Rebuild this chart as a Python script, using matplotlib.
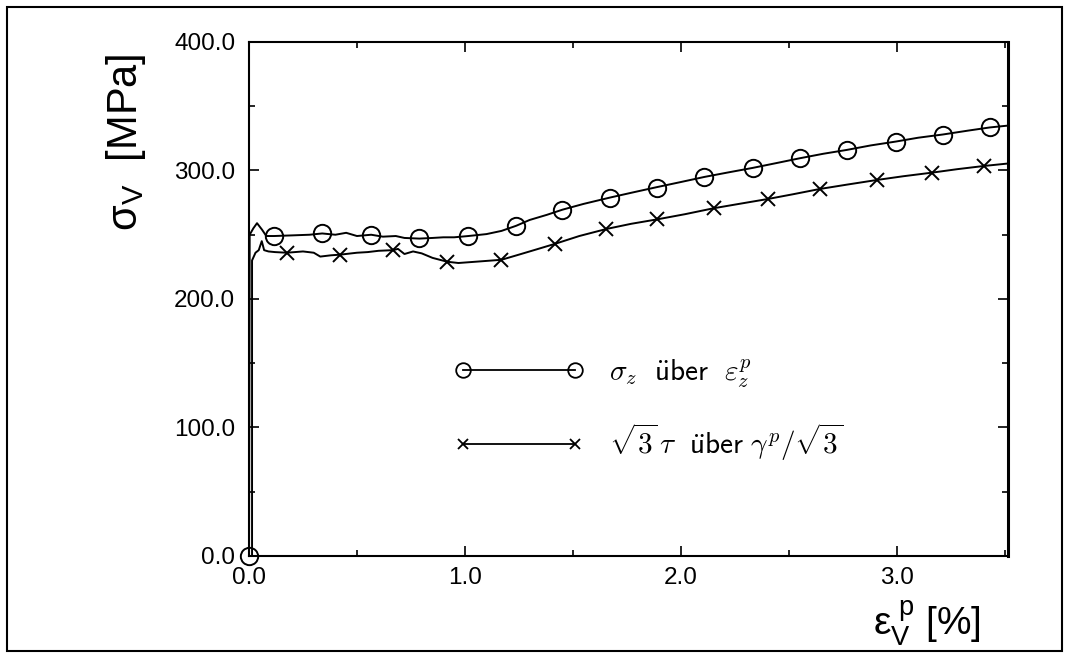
import numpy as np
import matplotlib
matplotlib.use("Agg")
import matplotlib.pyplot as plt
from matplotlib.lines import Line2D
from matplotlib.patches import Rectangle
from matplotlib.ticker import MultipleLocator, FormatStrFormatter

plt.rcParams['font.family'] = ['Liberation Sans', 'DejaVu Sans']
plt.rcParams['mathtext.fontset'] = 'custom'
plt.rcParams['mathtext.rm'] = 'Liberation Sans'
plt.rcParams['mathtext.it'] = 'Liberation Sans'

# sigma_z over eps_z^p  (line)
sz_x = [0.0, 0.003, 0.02, 0.037, 0.06, 0.08, 0.116, 0.2, 0.28, 0.339, 0.4, 0.45,
        0.5, 0.566, 0.62, 0.68, 0.72, 0.789, 0.85, 0.9, 0.95, 1.016, 1.1, 1.17,
        1.238, 1.3, 1.38, 1.452, 1.55, 1.674, 1.78, 1.888, 2.0, 2.11, 2.22, 2.333,
        2.45, 2.551, 2.66, 2.769, 2.88, 2.996, 3.1, 3.214, 3.33, 3.432, 3.52]
sz_y = [0.0, 250, 255, 259, 254, 249, 249, 249.5, 250, 251, 250, 251.5,
        249, 250, 248.5, 249, 247.5, 247, 247.5, 248, 248, 249, 250.5, 253,
        257, 261.5, 265.5, 269.5, 274, 279, 283, 287, 291, 295, 298.5, 302,
        306, 309.5, 313, 316, 319.5, 322.5, 325.5, 328, 331, 333.5, 335]
# circle markers
sz_mx = [0.0, 0.116, 0.339, 0.566, 0.789, 1.016, 1.238, 1.452, 1.674, 1.888,
         2.11, 2.333, 2.551, 2.769, 2.996, 3.214, 3.432]
sz_my = [0.0, 249, 251.6, 249.8, 247.2, 249, 256.8, 269.3, 278.8, 286.6,
         294.7, 302.2, 309.5, 316, 322.4, 327.6, 333.6]

# sqrt(3) tau over gamma^p/sqrt(3)
tau_x = [0.014, 0.014, 0.03, 0.045, 0.059, 0.07, 0.09, 0.12, 0.175, 0.25, 0.3,
         0.33, 0.38, 0.422, 0.5, 0.55, 0.6, 0.668, 0.69, 0.72, 0.76, 0.8, 0.85,
         0.918, 0.97, 1.05, 1.169, 1.25, 1.33, 1.419, 1.53, 1.656, 1.77, 1.892,
         2.02, 2.152, 2.27, 2.403, 2.52, 2.644, 2.77, 2.908, 3.03, 3.163, 3.28,
         3.404, 3.52]
tau_y = [0.0, 230, 236, 238, 245, 238, 237, 236.5, 236, 237, 236,
         233, 234, 234.5, 236, 236.5, 237.5, 238, 239, 235, 237, 235.5, 232,
         229, 228, 229, 230.5, 234.5, 238.5, 243, 249, 254.5, 258.5, 262,
         266, 270.6, 274, 277.8, 281.5, 285.6, 289, 292.6, 295.5, 298.3, 301,
         303.5, 305.5]
tau_mx = [0.175, 0.422, 0.668, 0.918, 1.169, 1.419, 1.656, 1.892, 2.152, 2.403,
          2.644, 2.908, 3.163, 3.404]
tau_my = [236.0, 234.2, 238.1, 229, 230.4, 242.8, 254.5, 262, 270.6, 277.8,
          285.6, 292.6, 298.3, 303.5]

labels = [r'$\sigma_z\ \ \mathsf{\ddot{u}ber}\ \ \varepsilon_z^p$',
          r'$\sqrt{3}\,\tau\ \ \mathsf{\ddot{u}ber}\ \gamma^p/\sqrt{3}$']

fig = plt.figure(figsize=(10.72, 6.59), dpi=100)
ax = fig.add_axes([0.2323, 0.1563, 0.7080, 0.7800])

ax.plot(sz_x, sz_y, color='k', lw=1.4)
ax.plot(sz_mx, sz_my, ls='none', marker='o', ms=12.5, mfc='none', mec='k', mew=1.4,
        clip_on=False)
ax.plot(tau_x, tau_y, color='k', lw=1.4)
ax.plot(tau_mx, tau_my, ls='none', marker='x', ms=10, mec='k', mew=1.4)

ax.set_xlim(0, 3.516)
ax.set_ylim(0, 400)
ax.xaxis.set_major_locator(MultipleLocator(1.0))
ax.xaxis.set_minor_locator(MultipleLocator(0.5))
ax.yaxis.set_major_locator(MultipleLocator(100))
ax.yaxis.set_minor_locator(MultipleLocator(50))
ax.xaxis.set_major_formatter(FormatStrFormatter('%.1f'))
ax.yaxis.set_major_formatter(FormatStrFormatter('%.1f'))
ax.tick_params(which='both', direction='in', top=True, right=True, width=1.2)
ax.tick_params(which='major', length=7, labelsize=17.5)
ax.tick_params(which='minor', length=4)
ax.tick_params(axis='y', pad=10)
ax.tick_params(axis='x', pad=8)
for s in ax.spines.values():
    s.set_linewidth(1.5)
ax.spines['right'].set_linewidth(2.2)

ax.set_ylabel(r'$\mathrm{σ}_\mathrm{V}$  [MPa]', fontsize=30)
ax.yaxis.set_label_coords(-0.133, 0.805)
ax.set_xlabel(r'$\mathrm{ε}_\mathrm{V}^{\ \mathrm{p}}$ [%]', fontsize=28)
ax.xaxis.set_label_coords(0.893, -0.085)

h1 = Line2D([], [], color='k', lw=1.3, marker='o', ms=10.5, mfc='none', mew=1.3)
h2 = Line2D([], [], color='k', lw=1.3, marker='x', ms=7.5, mew=1.3)
leg = ax.legend([h1, h2], labels, numpoints=2, frameon=False, fontsize=21,
                handlelength=4.45, labelspacing=1.1, handletextpad=0.85,
                loc='upper left', bbox_to_anchor=(0.236, 0.438))
for t in leg.get_texts():
    t.set_math_fontfamily('cm')

# outer frame of the scanned figure
fig.patches.append(Rectangle((0.0065, 0.012), 0.9845, 0.977, transform=fig.transFigure,
                             fill=False, ec='k', lw=1.5))

fig.savefig('out.png', dpi=100)
